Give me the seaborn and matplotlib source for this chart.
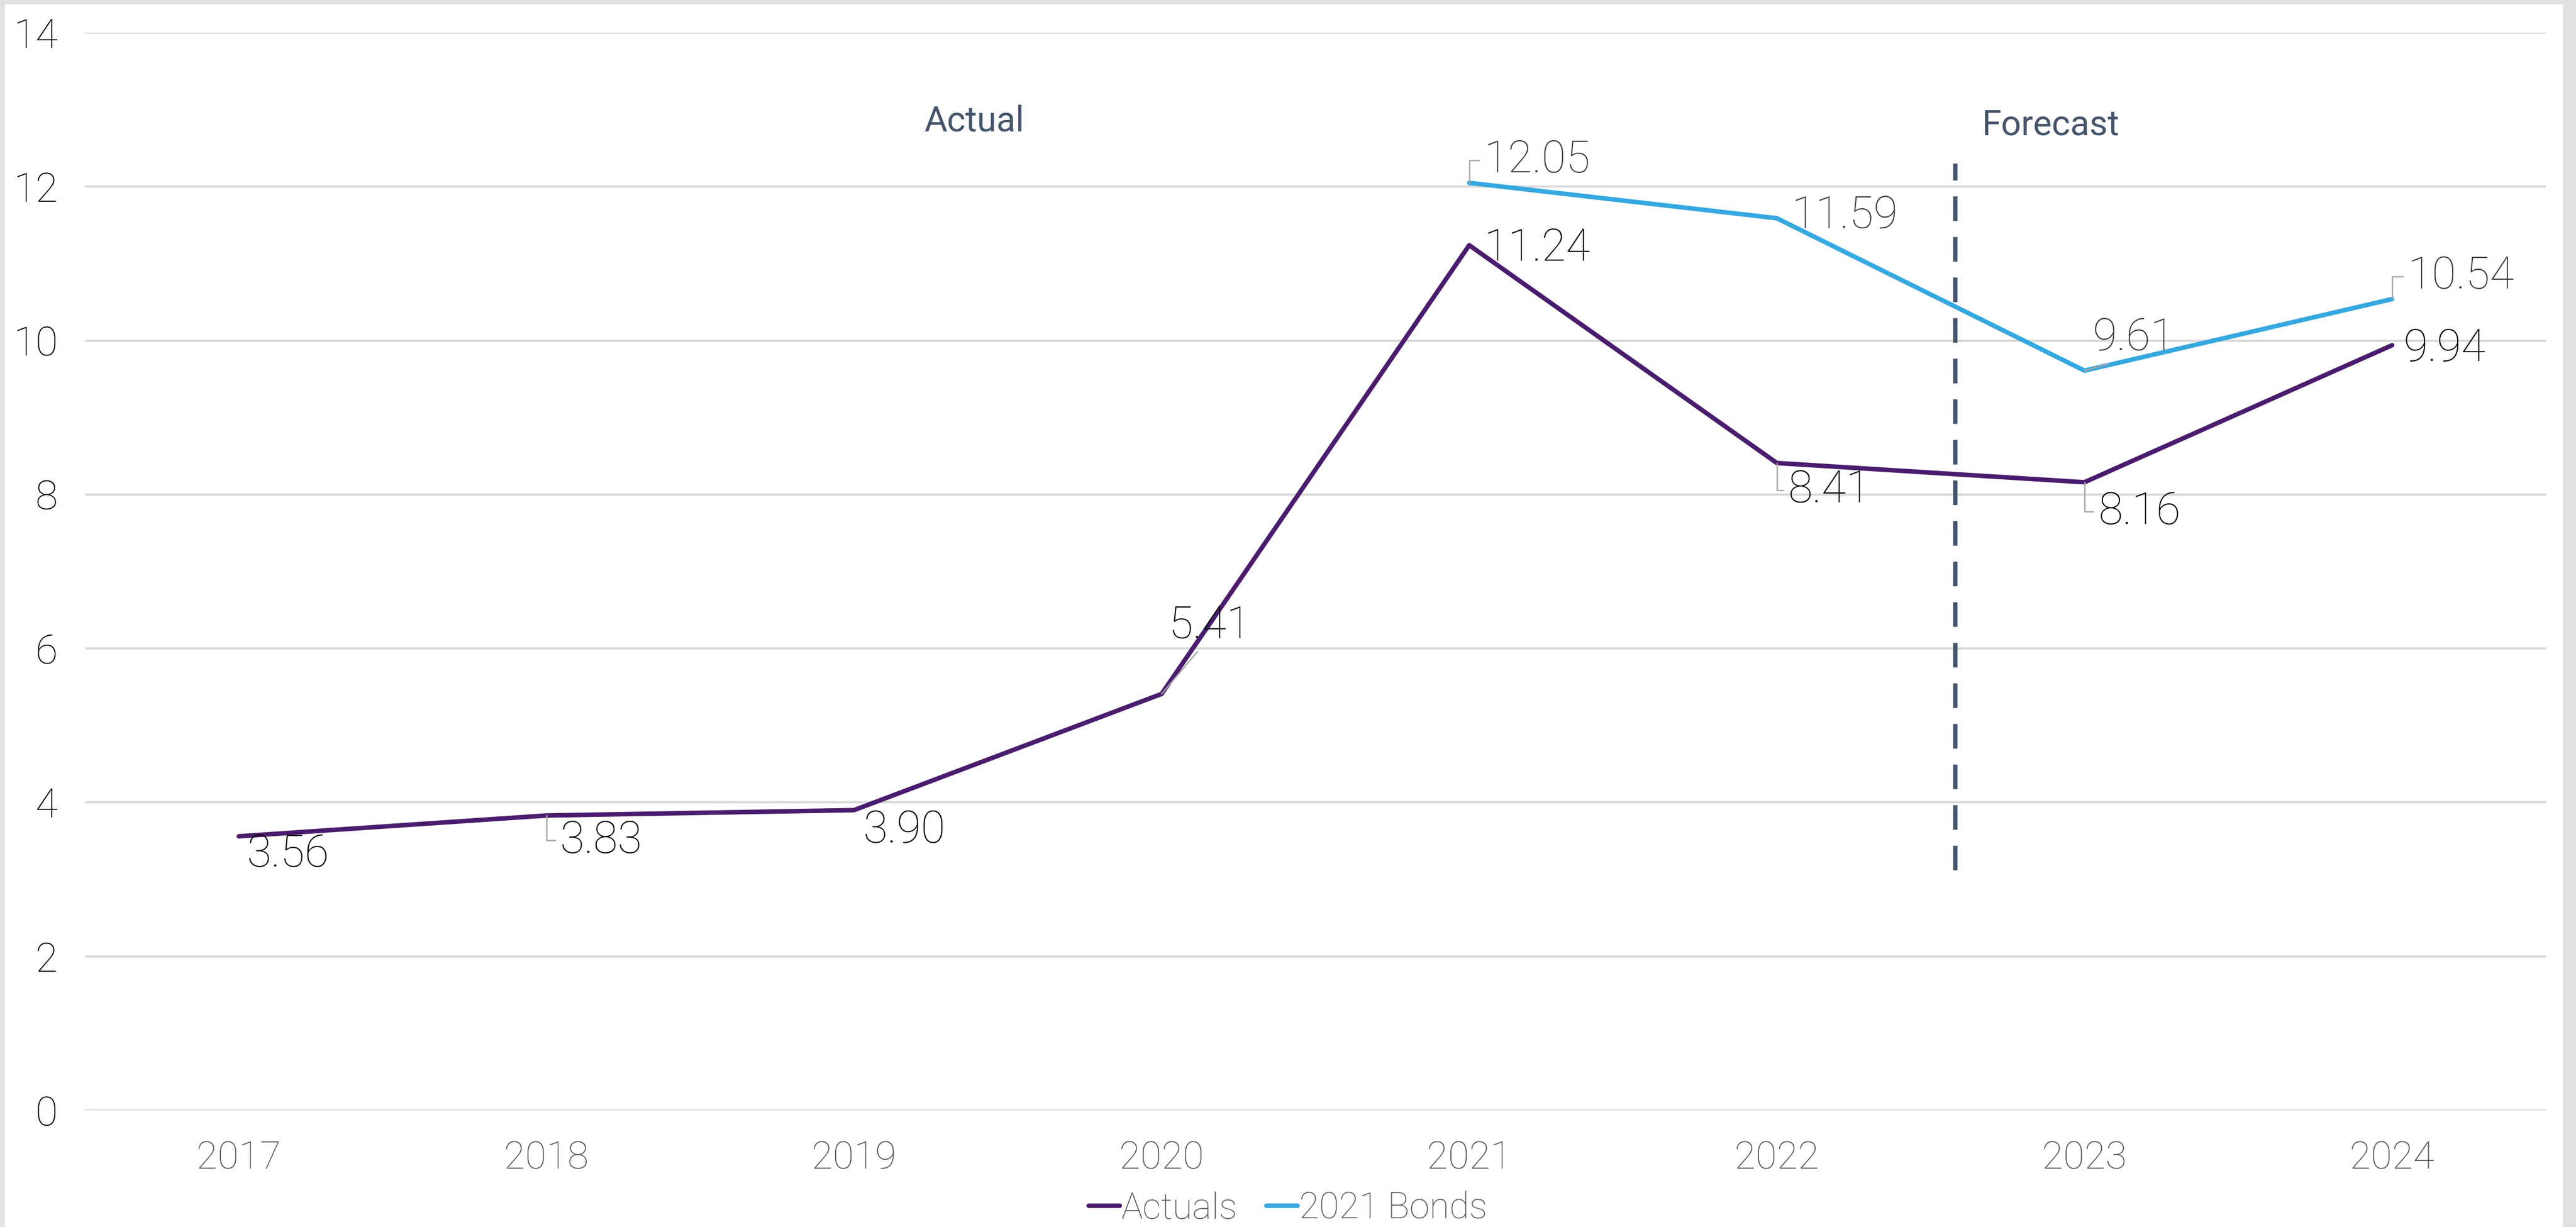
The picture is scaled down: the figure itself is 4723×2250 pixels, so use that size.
import seaborn as sns
import matplotlib.pyplot as plt
import pandas as pd
from matplotlib.patches import Rectangle

# chart values
years = ['2017', '2018', '2019', '2020', '2021', '2022', '2023', '2024']
actuals = [3.56, 3.83, 3.90, 5.41, 11.24, 8.41, 8.16, 9.94]
bonds = [None, None, None, None, 12.05, 11.59, 9.61, 10.54]
series_names = ['Actuals', '2021 Bonds']

# label offsets in points (dx, dy) and what kind of leader line is drawn
actual_offsets = [(3.5, -8), (6, -11), (4, -9), (3, 30), (6.5, -1.5), (5, -12), (6, -13), (5, -1.5)]
actual_leaders = ['', 'angle', '', 'straight', '', 'angle', 'angle', '']
bond_offsets = [None, None, None, None, (6.5, 10), (6.5, 1), (3.6, 14.5), (7, 10)]
bond_leaders = ['', '', '', '', 'angle', '', 'straight', 'angle']

colors = {'Actuals': '#4A1C6E', '2021 Bonds': '#35A8E0'}
label_colors = {'Actuals': '#000000', '2021 Bonds': '#3A3A3A'}

rows = []
for i, y in enumerate(years):
    rows.append({'pos': i, 'year': y, 'value': actuals[i], 'series': 'Actuals'})
    if bonds[i] is not None:
        rows.append({'pos': i, 'year': y, 'value': bonds[i], 'series': '2021 Bonds'})
df = pd.DataFrame(rows)

sns.set_style('white')
plt.rcParams['font.family'] = ['Roboto', 'Liberation Sans', 'DejaVu Sans']
plt.rcParams['font.weight'] = 'light'

fig = plt.figure(figsize=(4723 / 300, 2250 / 300), dpi=300)
fig.patch.set_facecolor('#E2E2E2')
fig.add_artist(Rectangle((0.002, 0.0), 0.993, 0.9965, transform=fig.transFigure,
                         facecolor='white', edgecolor='none', zorder=0))
ax = fig.add_axes([0.0330, 0.0951, 0.9553, 0.8782])
ax.set_facecolor('white')

sns.lineplot(data=df, x='pos', y='value', hue='series', hue_order=series_names,
             palette=colors, linewidth=2.0, ax=ax, legend=True, sort=False)

ax.set_xlim(-0.5, len(years) - 0.5)
ax.set_ylim(0, 14)
ax.set_yticks(range(0, 15, 2))
ax.set_xticks(range(len(years)))
ax.set_xticklabels(years)
ax.set_xlabel('')
ax.set_ylabel('')
ax.grid(axis='y', color='#D9D9D9', linewidth=1.0)
ax.set_axisbelow(True)
for s in ax.spines.values():
    s.set_visible(False)
ax.tick_params(axis='y', length=0, pad=12, labelsize=18, labelcolor='#000000')
ax.tick_params(axis='x', length=0, pad=13, labelsize=17, labelcolor='#595959')


def add_labels(values, offsets, leaders, name):
    for i, v in enumerate(values):
        if v is None:
            continue
        dx, dy = offsets[i]
        kw = {}
        if leaders[i] == 'angle':
            kw['arrowprops'] = dict(arrowstyle='-', color='#A6A6A6', lw=0.6,
                                    shrinkA=0, shrinkB=0, relpos=(0, 0.5),
                                    connectionstyle='angle,angleA=0,angleB=90,rad=0')
        elif leaders[i] == 'straight':
            kw['arrowprops'] = dict(arrowstyle='-', color='#A6A6A6', lw=0.6,
                                    shrinkA=0, shrinkB=0, relpos=(0.4, 0))
        ax.annotate(f'{v:.2f}', xy=(i, v), xytext=(dx, dy), textcoords='offset points',
                    ha='left', va='center', fontsize=19.5, color=label_colors[name], **kw)


add_labels(actuals, actual_offsets, actual_leaders, 'Actuals')
add_labels(bonds, bond_offsets, bond_leaders, '2021 Bonds')

# forecast divider and section titles
ax.plot([5.58, 5.58], [3.12, 12.3], color='#44546A', linewidth=1.9, linestyle=(0, (5.7, 3.7)))
ax.text(2.39, 12.85, 'Actual', ha='center', va='center', fontsize=15.5,
        fontweight='normal', color='#44546A')
ax.text(5.89, 12.8, 'Forecast', ha='center', va='center', fontsize=15.5,
        fontweight='normal', color='#44546A')

handles, labels = ax.get_legend_handles_labels()
ax.legend(handles, labels, loc='center', bbox_to_anchor=(0.5, 0.015),
          bbox_transform=fig.transFigure, ncol=2, frameon=False, fontsize=16,
          handlelength=0.85, handletextpad=0.05, columnspacing=0.8,
          labelcolor='#595959')

fig.savefig('out.png', dpi=300, facecolor=fig.get_facecolor())
